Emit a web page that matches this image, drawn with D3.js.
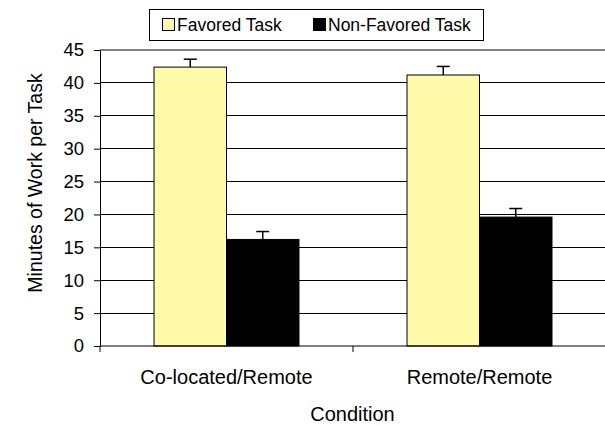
<!DOCTYPE html>
<html>
<head>
<meta charset="utf-8">
<script src="https://cdn.jsdelivr.net/npm/d3@7"></script>
<style>
  body { margin: 0; background: #fff; }
  text { font-family: "Liberation Sans", Arial, sans-serif; fill: #000; }
</style>
</head>
<body>
<svg id="chart"></svg>
<script>
// chart data
const conditions = ['Co-located/Remote', 'Remote/Remote'];
const seriesNames = ['Favored Task', 'Non-Favored Task'];
const favored = [42.4, 41.2];
const favoredErr = [1.2, 1.3];
const nonFavored = [16.2, 19.6];
const nonFavoredErr = [1.2, 1.3];
const yTicks = [0, 5, 10, 15, 20, 25, 30, 35, 40, 45];

const seriesFill = { 'Favored Task': '#FFFBAA', 'Non-Favored Task': '#000000' };

let width = 605, height = 425;
let margin = { left: 100, right: -1, top: 50, bottom: 79 };

let svg = d3.select('#chart')
            .attr('width', width)
            .attr('height', height);

let rows = [];
conditions.forEach((c, i) => {
  rows.push({ cond: c, series: seriesNames[0], value: favored[i], err: favoredErr[i] });
  rows.push({ cond: c, series: seriesNames[1], value: nonFavored[i], err: nonFavoredErr[i] });
});

let x0 = d3.scaleBand()
           .domain(conditions)
           .range([margin.left, width - margin.right]);

let gap = x0.bandwidth() * 0.427;
let x1 = d3.scaleBand()
           .domain(seriesNames)
           .range([gap / 2, x0.bandwidth() - gap / 2]);

let y = d3.scaleLinear()
          .domain([0, 45])
          .range([height - margin.bottom, margin.top]);

// gridlines
svg.append('g')
   .selectAll('line')
   .data(yTicks.filter(t => t > 0))
   .enter()
   .append('line')
   .attr('x1', margin.left)
   .attr('x2', width)
   .attr('y1', d => y(d))
   .attr('y2', d => y(d))
   .attr('stroke', d => d === 45 ? '#808080' : '#000')
   .attr('stroke-width', d => d === 45 ? 2 : 1)
   .attr('shape-rendering', 'crispEdges');

// bars
let barGp = svg.append('g');
barGp.selectAll('rect')
     .data(rows)
     .enter()
     .append('rect')
     .attr('x', d => x0(d.cond) + x1(d.series))
     .attr('y', d => y(d.value))
     .attr('width', x1.bandwidth())
     .attr('height', d => y(0) - y(d.value))
     .attr('fill', d => seriesFill[d.series])
     .attr('stroke', '#000')
     .attr('stroke-width', 1);

// error bars (upper only)
let errGp = svg.append('g')
               .attr('stroke', '#000')
               .attr('stroke-width', 1.5);
rows.forEach(d => {
  let cx = x0(d.cond) + x1(d.series) + x1.bandwidth() / 2;
  errGp.append('line')
       .attr('x1', cx).attr('x2', cx)
       .attr('y1', y(d.value)).attr('y2', y(d.value + d.err));
  errGp.append('line')
       .attr('x1', cx - 6.5).attr('x2', cx + 6.5)
       .attr('y1', y(d.value + d.err)).attr('y2', y(d.value + d.err));
});

// y axis
let yAxis = svg.append('g')
               .attr('transform', `translate(${margin.left},0)`)
               .call(d3.axisLeft(y).tickValues(yTicks).tickSize(6).tickPadding(10).tickSizeOuter(0));
yAxis.select('.domain').attr('stroke', '#000');
yAxis.selectAll('.tick line').attr('stroke', '#000');
yAxis.selectAll('.tick text')
     .style('font-size', '18.5px')
     .style('font-family', '"Liberation Sans", Arial, sans-serif')
     .attr('fill', '#000');

// x axis
let xAxis = svg.append('g')
               .attr('transform', `translate(0,${y(0)})`);
xAxis.append('line')
     .attr('x1', margin.left).attr('x2', width)
     .attr('y1', 0).attr('y2', 0)
     .attr('stroke', '#000');
xAxis.selectAll('line.tk')
     .data(conditions)
     .enter()
     .append('line')
     .classed('tk', true)
     .attr('x1', d => x0(d)).attr('x2', d => x0(d))
     .attr('y1', 0).attr('y2', 6)
     .attr('stroke', '#000');
xAxis.selectAll('text')
     .data(conditions)
     .enter()
     .append('text')
     .attr('x', d => x0(d) + x0.bandwidth() / 2)
     .attr('y', 38)
     .attr('text-anchor', 'middle')
     .style('font-size', '20px')
     .text(d => d);

// axis titles
svg.append('text')
   .attr('x', (margin.left + width) / 2)
   .attr('y', 421)
   .attr('text-anchor', 'middle')
   .style('font-size', '20px')
   .text('Condition');

svg.append('text')
   .attr('transform', 'translate(42,183) rotate(-90)')
   .attr('text-anchor', 'middle')
   .style('font-size', '19.5px')
   .text('Minutes of Work per Task');

// legend
let legend = svg.append('g');
legend.append('rect')
      .attr('x', 149.5).attr('y', 9.5)
      .attr('width', 334).attr('height', 31)
      .attr('fill', '#fff')
      .attr('stroke', '#000');
let legendX = [162, 313];
seriesNames.forEach((s, i) => {
  legend.append('rect')
        .attr('x', legendX[i] + 0.5).attr('y', 18.5)
        .attr('width', 12).attr('height', 12)
        .attr('fill', seriesFill[s])
        .attr('stroke', '#000');
  legend.append('text')
        .attr('x', legendX[i] + 15)
        .attr('y', 31)
        .style('font-size', '17.5px')
        .text(s);
});
</script>
</body>
</html>
